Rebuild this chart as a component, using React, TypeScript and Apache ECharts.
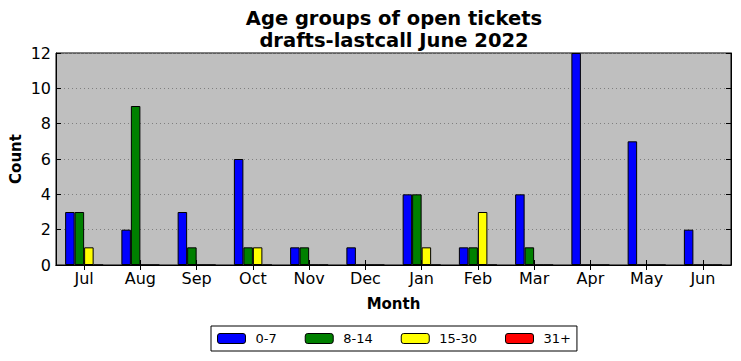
import React, { useEffect, useRef } from "react";
import * as echarts from "echarts";

const months = ["Jul", "Aug", "Sep", "Oct", "Nov", "Dec", "Jan", "Feb", "Mar", "Apr", "May", "Jun"];
const age0to7 = [3, 2, 3, 6, 1, 1, 4, 1, 4, 12, 7, 2];
const age8to14 = [3, 9, 1, 1, 1, 0, 4, 1, 1, 0, 0, 0];
const age15to30 = [1, 0, 0, 1, 0, 0, 1, 3, 0, 0, 0, 0];
const age31plus = [0, 0, 0, 0, 0, 0, 0, 0, 0, 0, 0, 0];
const seriesNames = ["0-7", "8-14", "15-30", "31+"];
const seriesColors = ["#0000ff", "#008000", "#ffff00", "#ff0000"];
const titleText = "Age groups of open tickets\ndrafts-lastcall June 2022";

const FONT = "DejaVu Sans";

export default function App() {
  const ref = useRef<HTMLDivElement>(null);
  useEffect(() => {
    if (!ref.current) return;
    const chart = echarts.init(ref.current, null, { renderer: "svg" });
    const values = [age0to7, age8to14, age15to30, age31plus];
    chart.setOption({
      animation: false,
      textStyle: { fontFamily: FONT },
      title: {
        text: titleText,
        left: 389,
        top: 3,
        textAlign: "center",
        textStyle: { fontFamily: FONT, fontSize: 19.5, fontWeight: "bold", color: "#000", lineHeight: 21.5 },
      },
      legend: {
        data: seriesNames,
        left: 211,
        top: 326,
        padding: [6, 6, 6, 6],
        borderColor: "#000",
        borderWidth: 1,
        itemWidth: 28,
        itemHeight: 10,
        itemGap: 28,
        textStyle: { fontFamily: FONT, fontSize: 13, color: "#000", padding: [0, 0, 0, 5] },
        itemStyle: { borderColor: "#000", borderWidth: 1 },
      },
      grid: {
        left: 56,
        right: 10,
        top: 53,
        bottom: 96,
        outerBoundsMode: "none",
        containLabel: false,
        show: true,
        backgroundColor: "#bfbfbf",
        borderColor: "#000",
        borderWidth: 1,
      },
      xAxis: [
        {
          type: "category",
          data: months,
          name: "Month",
          nameLocation: "middle",
          nameGap: 31,
          nameMoveOverlap: false,
          nameTextStyle: { fontFamily: FONT, fontSize: 15, fontWeight: "bold", color: "#000" },
          axisLine: { show: true, lineStyle: { color: "#000", width: 1 } },
          axisTick: { show: true, inside: true, alignWithLabel: true, length: 5, lineStyle: { color: "#000" } },
          axisLabel: { fontFamily: FONT, fontSize: 16, color: "#000", margin: 5 },
          splitLine: { show: false },
        },
        {
          type: "category",
          data: months,
          position: "top",
          axisLine: { show: true, lineStyle: { color: "#000", width: 1 } },
          axisTick: { show: true, inside: true, alignWithLabel: true, length: 5, lineStyle: { color: "#000" } },
          axisLabel: { show: false },
          splitLine: { show: false },
        },
      ],
      yAxis: [
        {
          type: "value",
          min: 0,
          max: 12,
          interval: 2,
          name: "Count",
          nameLocation: "middle",
          nameGap: 33,
          nameMoveOverlap: false,
          nameTextStyle: { fontFamily: FONT, fontSize: 15, fontWeight: "bold", color: "#000" },
          axisLine: { show: true, lineStyle: { color: "#000", width: 1 } },
          axisTick: { show: true, inside: true, length: 5, lineStyle: { color: "#000" } },
          axisLabel: { fontFamily: FONT, fontSize: 16, color: "#000", margin: 5 },
          splitLine: { show: true, lineStyle: { color: "#7f7f7f", type: [1, 3], width: 1 } },
        },
        {
          type: "value",
          min: 0,
          max: 12,
          interval: 2,
          position: "right",
          axisLine: { show: true, lineStyle: { color: "#000", width: 1 } },
          axisTick: { show: true, inside: true, length: 5, lineStyle: { color: "#000" } },
          axisLabel: { show: false },
          splitLine: { show: false },
        },
      ],
      series: seriesNames.map((name, i) => ({
        name,
        type: "bar",
        data: values[i],
        barWidth: 9.5,
        barGap: "0%",
        itemStyle: { color: seriesColors[i], borderColor: "#000", borderWidth: 1 },
      })),
    });
    return () => chart.dispose();
  }, []);
  return <div ref={ref} style={{ width: 741, height: 361, position: "absolute", left: 0, top: 0 }} />;
}
